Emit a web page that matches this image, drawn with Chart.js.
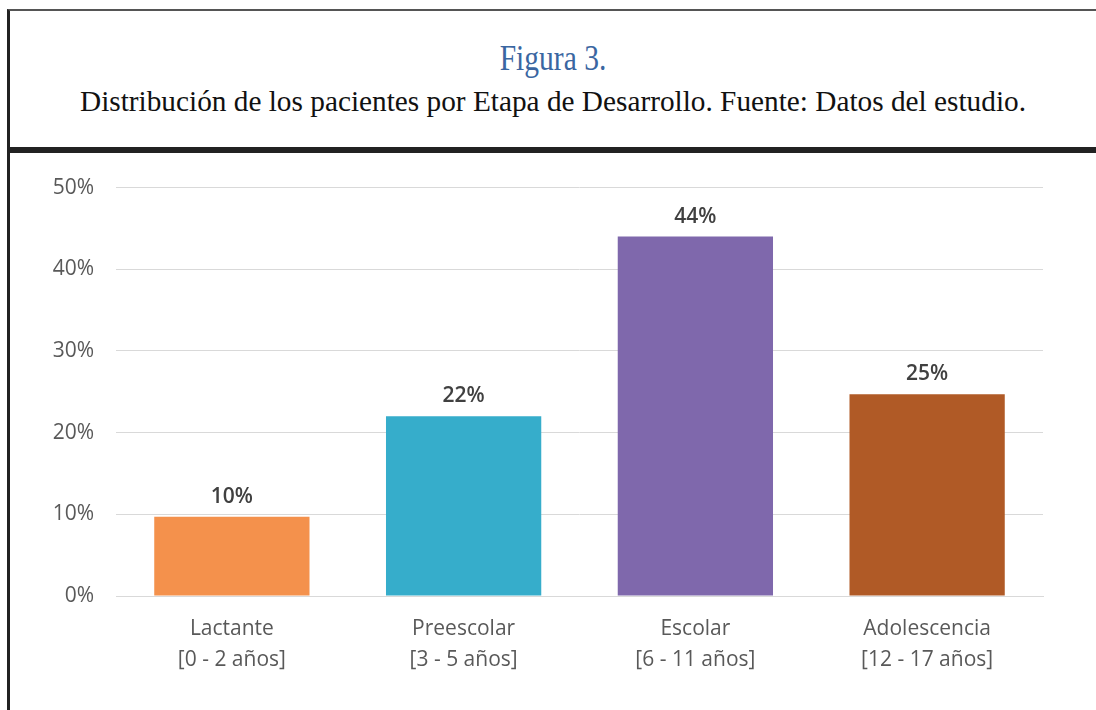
<!DOCTYPE html>
<html>
<head>
<meta charset="utf-8">
<script src="https://cdn.jsdelivr.net/npm/chart.js@4.4.0/dist/chart.umd.min.js"></script>
<style>
  html, body { margin: 0; padding: 0; background: #fff; }
  body { width: 1096px; height: 710px; position: relative; overflow: hidden; }
  #frame { position: absolute; left: 7px; top: 9px; width: 1100px; height: 720px;
           border-left: 3px solid #222; border-top: 2px solid #555; box-sizing: border-box; }
  #bar { position: absolute; left: 7px; top: 147px; width: 1100px; height: 6px; background: #222; }
  .t { position: absolute; left: 10px; width: 1086px; text-align: center;
       font-family: "Liberation Serif", "Times New Roman", serif; white-space: nowrap; }
  #t1 { top: 40px; font-size: 36px; line-height: 36px; color: #3a66a1; transform: scaleX(0.82); }
  #t2 { top: 87px; font-size: 29px; line-height: 29px; color: #111; transform: scaleX(1.01); }
  #wrap { position: absolute; left: 10px; top: 153px; width: 1086px; height: 557px; }
</style>
</head>
<body>
<div id="frame"></div>
<div id="bar"></div>
<div class="t" id="t1">Figura 3.</div>
<div class="t" id="t2">Distribución de los pacientes por Etapa de Desarrollo. Fuente: Datos del estudio.</div>
<div id="wrap"><canvas id="c" width="1086" height="557"></canvas></div>
<script>
// etapas de desarrollo
const categories = [
  ['Lactante', '[0 - 2 años]'],
  ['Preescolar', '[3 - 5 años]'],
  ['Escolar', '[6 - 11 años]'],
  ['Adolescencia', '[12 - 17 años]']
];
const values = [0.097, 0.22, 0.44, 0.247];
const valueLabels = ['10%', '22%', '44%', '25%'];
const barColors = ['#f4914c', '#36adcb', '#7f68ac', '#b05a26'];
const yTicks = [0, 0.1, 0.2, 0.3, 0.4, 0.5];

const labelFont = '"Open Sans", sans-serif';

const dataLabels = {
  id: 'dataLabels',
  afterDatasetsDraw(chart) {
    const ctx = chart.ctx;
    const meta = chart.getDatasetMeta(0);
    ctx.save();
    ctx.font = '600 21px ' + labelFont;
    ctx.fillStyle = '#404040';
    ctx.textAlign = 'center';
    ctx.textBaseline = 'middle';
    meta.data.forEach((bar, i) => {
      ctx.fillText(valueLabels[i], bar.x, bar.y - 20);
    });
    ctx.restore();
  }
};

new Chart(document.getElementById('c'), {
  type: 'bar',
  data: {
    labels: categories,
    datasets: [{
      data: values,
      backgroundColor: barColors,
      borderWidth: 0,
      barPercentage: 0.67,
      categoryPercentage: 1
    }]
  },
  options: {
    responsive: false,
    animation: false,
    layout: { padding: { top: 32, right: 53, left: 0, bottom: 0 } },
    plugins: { legend: { display: false }, tooltip: { enabled: false } },
    scales: {
      x: {
        grid: { display: false },
        border: { display: true, color: '#d9d9d9', width: 1 },
        ticks: {
          color: '#595959',
          font: { family: labelFont, size: 21, lineHeight: 1.5 },
          padding: 9,
          maxRotation: 0
        },
        afterFit(s) { s.height = 114; }
      },
      y: {
        min: 0,
        max: 0.5,
        afterBuildTicks(s) { s.ticks = yTicks.map(v => ({ value: v })); },
        grid: { color: '#d9d9d9', lineWidth: 1, drawTicks: false },
        border: { display: false },
        ticks: {
          color: '#595959',
          font: { family: labelFont, size: 21 },
          padding: 22,
          callback: v => Math.round(v * 100) + '%'
        },
        afterFit(s) { s.width = 106; }
      }
    }
  },
  plugins: [dataLabels]
});
</script>
</body>
</html>
